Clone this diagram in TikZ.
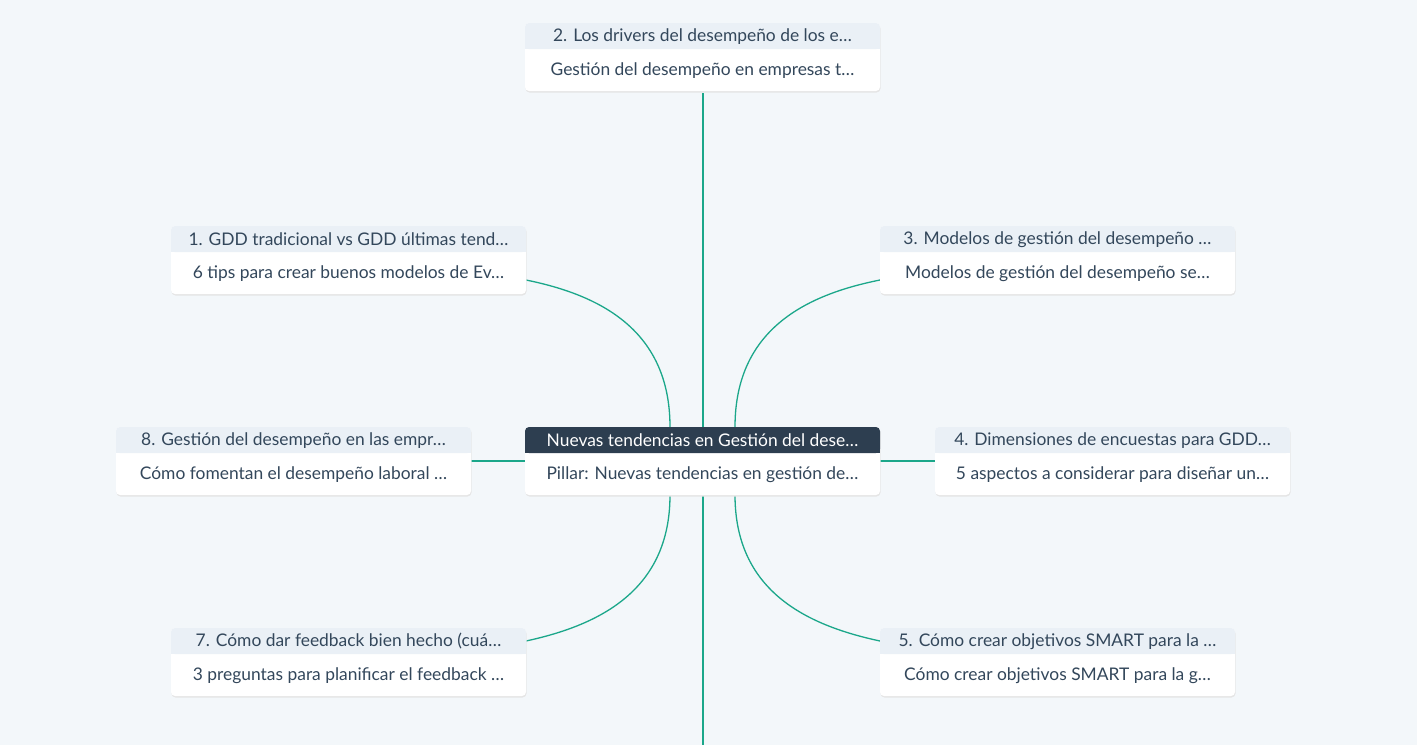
\documentclass[tikz,border=0pt]{standalone}
\usepackage{fontspec}
\setmainfont{Lato}
\definecolor{bg}{HTML}{F3F7FA}
\definecolor{hdr}{HTML}{EAF0F6}
\definecolor{dark}{HTML}{2D3E50}
\definecolor{txt}{HTML}{33475B}
\definecolor{teal}{HTML}{1BA78A}
\begin{document}
\begin{tikzpicture}[x=1pt,y=-1pt,
  lnk/.style={draw=teal,line width=1.3pt},
  txtst/.style={font=\fontsize{17.4}{20}\selectfont,text=txt}]
\fill[bg] (0,0) rectangle (1417,745);
\useasboundingbox (0,0) rectangle (1417,745);
\newcommand{\mycard}[6][hdr]{%
  \fill[black!10,rounded corners=4pt] (#2+0.5,#3+1.5) rectangle (#2+355.5,#3+69.5);
  \fill[white,rounded corners=4pt] (#2,#3) rectangle (#2+355,#3+68);
  \fill[#1,rounded corners=4pt] (#2,#3) rectangle (#2+355,#3+26);
  \fill[#1] (#2,#3+18) rectangle (#2+355,#3+26);
  \coordinate (#6) at (#2,#3);
  \node[txtst,#1 text] (#6h) at (#2+177.5,#3+13.5) {#4};
  \node[txtst] (#6b) at (#2+177.5,#3+47.5) {#5};
}
\tikzset{hdr text/.style={}, dark text/.style={text=white}}
\coordinate (c0) at (703,93);
\coordinate (c1) at (703,427);
\coordinate (c2) at (703,495);
\coordinate (c3) at (703,745);
\draw[lnk] (c0) -- (c1);
\draw[lnk] (c2) -- (c3);
\draw[lnk] (670,427) .. controls (670,330) and (600,295) .. (526,280);
\draw[lnk] (735,427) .. controls (735,330) and (805,295) .. (880,280);
\draw[lnk] (670,495) .. controls (670,590) and (600,625) .. (526,641);
\draw[lnk] (735,495) .. controls (735,590) and (805,625) .. (880,641);
\draw[lnk] (471,461) -- (525,461);
\draw[lnk] (880,461) -- (935,461);
\mycard{525}{23}{2. Los drivers del desempeño de los e…}{Gestión del desempeño en empresas t…}{n2}
\mycard{171}{226}{1. GDD tradicional vs GDD últimas tend…}{6 tips para crear buenos modelos de Ev…}{n1}
\mycard{880}{226}{3. Modelos de gestión del desempeño …}{Modelos de gestión del desempeño se…}{n3}
\mycard{116}{427}{8. Gestión del desempeño en las empr…}{Cómo fomentan el desempeño laboral …}{n8}
\mycard[dark]{525}{427}{Nuevas tendencias en Gestión del dese…}{Pillar: Nuevas tendencias en gestión de…}{nc}
\mycard{935}{427}{4. Dimensiones de encuestas para GDD…}{5 aspectos a considerar para diseñar un…}{n4}
\mycard{171}{628}{7. Cómo dar feedback bien hecho (cuá…}{3 preguntas para planificar el feedback …}{n7}
\mycard{880}{628}{5. Cómo crear objetivos SMART para la …}{Cómo crear objetivos SMART para la g…}{n5}
\end{tikzpicture}
\end{document}
